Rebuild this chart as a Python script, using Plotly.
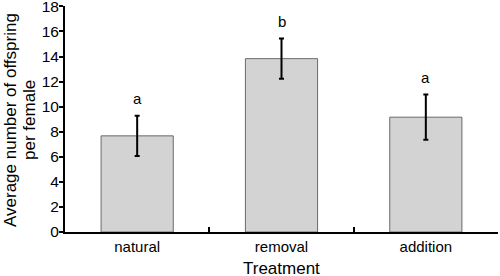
import plotly.graph_objects as go

categories = ["natural", "removal", "addition"]
means = [7.67, 13.83, 9.16]
errors = [1.6, 1.6, 1.8]
letters = ["a", "b", "a"]
y_ticks = list(range(0, 20, 2))

FONT = "Liberation Sans, Arial, Helvetica, sans-serif"
PLOT_W, PLOT_H = 433, 226

fig = go.Figure()
fig.add_trace(go.Bar(
    x=categories, y=means, width=0.5,
    marker=dict(color="#d3d3d3", line=dict(color="#6a6a6a", width=1)),
    error_y=dict(type="data", array=errors, visible=True, color="black",
                 thickness=2, width=2.5),
))
for c, m, e, l in zip(categories, means, errors, letters):
    fig.add_annotation(x=c, y=m + e, text=l, showarrow=False, yanchor="bottom",
                       yshift=7, font=dict(size=15, color="black", family=FONT))

# axis titles
fig.add_annotation(xref="paper", yref="paper", x=(10 - 65) / PLOT_W, y=(232 - 120) / PLOT_H,
                   text="Average number of offspring", textangle=-90, showarrow=False,
                   xanchor="center", yanchor="middle", font=dict(size=17, color="black", family=FONT))
fig.add_annotation(xref="paper", yref="paper", x=(29 - 65) / PLOT_W, y=(232 - 120) / PLOT_H,
                   text="per female", textangle=-90, showarrow=False,
                   xanchor="center", yanchor="middle", font=dict(size=17, color="black", family=FONT))
fig.add_annotation(xref="paper", yref="paper", x=0.5, y=(232 - 268) / PLOT_H,
                   text="Treatment", showarrow=False,
                   xanchor="center", yanchor="middle", font=dict(size=17, color="black", family=FONT))

fig.update_layout(
    width=500, height=276,
    margin=dict(l=65, r=2, t=6, b=44),
    plot_bgcolor="white", paper_bgcolor="white",
    font=dict(family=FONT, color="black"),
    showlegend=False,
    xaxis=dict(
        type="category", tickson="boundaries", ticks="inside", ticklen=5,
        tickcolor="black", tickwidth=1.5, automargin=False,
        showline=True, linecolor="black", linewidth=2,
        tickfont=dict(size=15), showgrid=False,
        range=[-0.5, 2.5],
    ),
    yaxis=dict(
        range=[0, 18.03], tickvals=y_ticks, ticks="outside", ticklen=4,
        tickcolor="black", tickwidth=1.5, automargin=False,
        showline=True, linecolor="black", linewidth=2,
        tickfont=dict(size=15.5), showgrid=False, zeroline=False,
        ticklabeloverflow="allow", ticklabelstandoff=-3,
    ),
)
fig.write_html("out.html", config={"displayModeBar": False},
               post_script="document.body.style.margin='0';document.body.style.overflow='hidden';")
